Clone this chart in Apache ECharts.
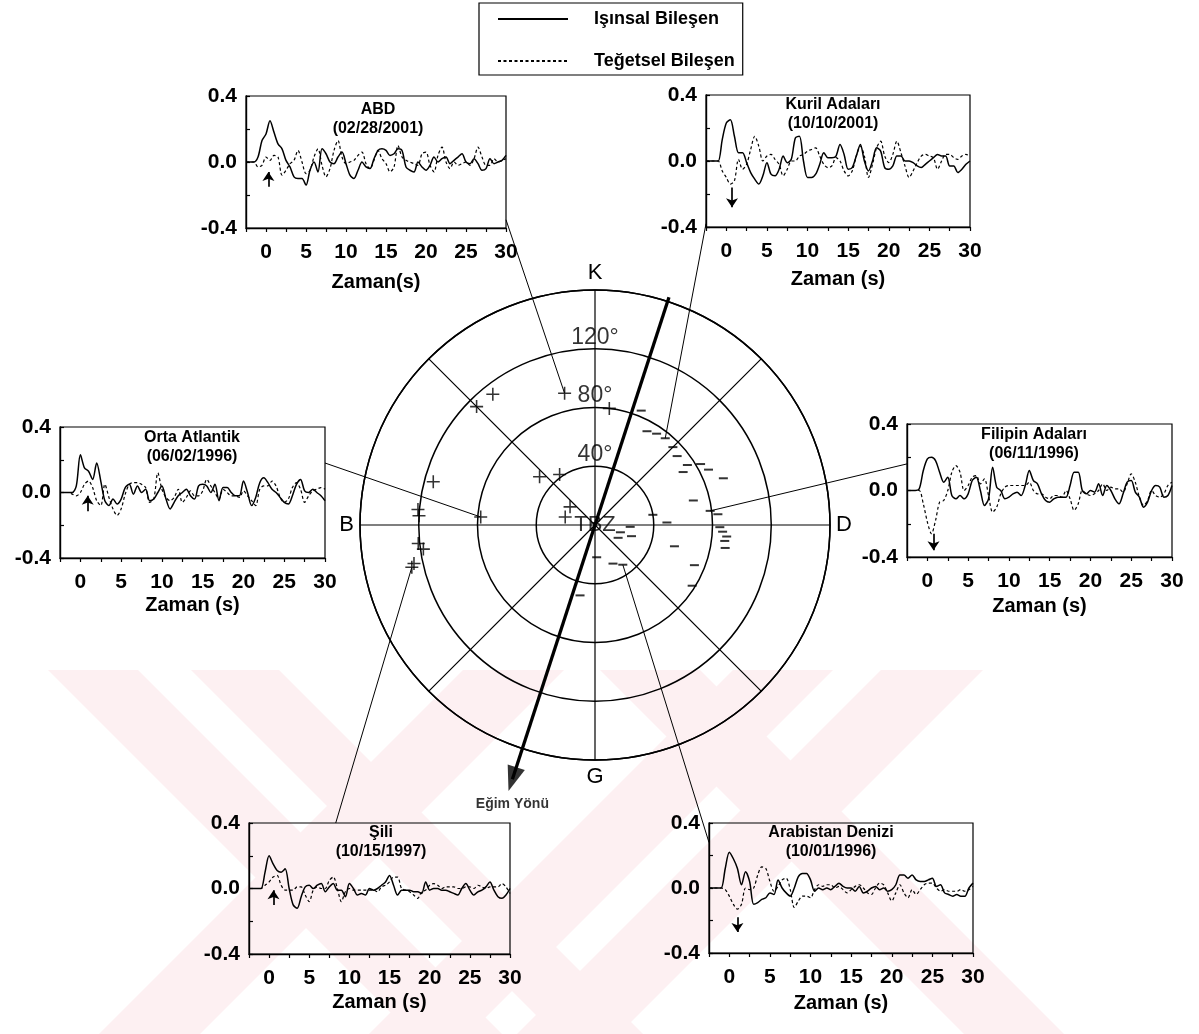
<!DOCTYPE html>
<html><head><meta charset="utf-8">
<script src="https://cdn.jsdelivr.net/npm/echarts@6/dist/echarts.min.js"></script>
<style>html,body{margin:0;padding:0;background:#fff}#c{width:1199px;height:1034px}</style>
</head><body><div id="c"></div>
<script>
// ---------------- DATA ----------------
const T = [-2.5,-2,-1.5,-1,-0.5,0,0.5,1,1.5,2,2.5,3,3.5,4,4.5,5,5.5,6,6.5,7,7.5,8,8.5,9,9.5,10,10.5,11,11.5,12,12.5,13,13.5,14,14.5,15,15.5,16,16.5,17,17.5,18,18.5,19,19.5,20,20.5,21,21.5,22,22.5,23,23.5,24,24.5,25,25.5,26,26.5,27,27.5,28,28.5,29,29.5,30];

const eventNames = ['ABD','Kuril Adaları','Orta Atlantik','Filipin Adaları','Şili','Arabistan Denizi'];
const eventDates = ['(02/28/2001)','(10/10/2001)','(06/02/1996)','(06/11/1996)','(10/15/1997)','(10/01/1996)'];
const timeAxisNames = ['Zaman(s)','Zaman (s)','Zaman (s)','Zaman (s)','Zaman (s)','Zaman (s)'];
const seriesNames = ['Işınsal Bileşen','Teğetsel Bileşen'];

const radialABD = [0,0,0,0.03,0.13,0.17,0.25,0.18,0.11,0.08,
 0.01,-0.03,-0.09,-0.1,-0.1,-0.14,-0.05,0,-0.06,0.08,
 0.05,0,-0.01,0.03,0.06,-0.01,-0.08,-0.1,-0.05,0,
 -0.03,-0.04,0.02,0.07,0.08,0.07,0.04,0.05,0.08,0.07,
 -0.03,-0.05,-0.06,0,-0.03,-0.05,-0.02,0.03,0,0.02,
 0.03,-0.01,0.01,0.03,0.05,0,-0.01,0.02,-0.01,-0.05,
 -0.04,0.02,-0.01,0,0.01,0.04];
const tangentialABD = [0,0,0,-0.03,-0.02,0.03,0.01,0.04,0.03,-0.08,
 -0.05,-0.01,0.01,0.07,0,-0.07,-0.05,0.03,0.08,-0.02,
 -0.09,-0.04,0.07,0.13,0.03,-0.01,0,0.01,0.04,0.06,
 -0.01,-0.04,0.01,0.07,0.02,-0.01,-0.06,-0.03,0.1,0.03,
 0.01,0,-0.01,-0.02,0.05,0.06,-0.02,-0.06,0.04,0.09,
 0,-0.04,0,-0.02,-0.01,0,-0.02,0.02,0.09,0.03,
 -0.02,-0.02,0.02,0,0.01,0.02];

const radialKuril = [0,0,0,0,0.13,0.23,0.25,0.15,0.05,0.05,
 -0.01,-0.07,-0.11,-0.14,-0.09,-0.01,-0.08,-0.09,-0.05,0.03,
 -0.01,0.01,0.14,0.15,0,-0.1,-0.1,-0.08,-0.02,0.05,
 0.02,0.02,0.03,0.1,0.04,-0.05,-0.04,0.03,0.1,0,
 -0.06,0,0.08,0.06,-0.04,-0.05,-0.03,0.03,0.03,0,
 0,-0.01,-0.03,-0.04,-0.02,0,0.02,0.04,0.03,0.03,
 -0.03,-0.03,-0.07,-0.05,-0.02,0];
const tangentialKuril = [0,0,0,0,-0.06,-0.1,-0.14,-0.12,0.01,-0.05,
 -0.02,0.07,0.15,0.09,0,0.03,0.04,0.01,-0.02,-0.09,
 -0.05,0,0,0.03,0.04,0.06,0.07,0.08,0.03,-0.02,
 -0.04,-0.03,0.02,0,-0.06,-0.09,-0.06,0.03,0.09,0.03,
 -0.1,-0.02,0.08,0.12,0.03,-0.01,0.04,0.12,0.05,-0.03,
 -0.1,-0.06,-0.01,0.03,0.04,0.03,0.02,-0.05,0,0.04,
 0.04,0.02,0.01,0.03,0.04,0.03];

const radialAtlantic = [0,0,0,0,0.04,0.23,0.15,0.13,0.08,0.18,
 0.07,-0.05,-0.08,-0.04,-0.07,-0.04,0.03,0.05,-0.01,0.04,
 0,0.02,-0.05,-0.04,0,0.04,-0.04,-0.1,-0.06,-0.02,
 0,0.02,-0.02,-0.04,0.04,0.05,0.04,0,0.05,-0.05,
 0.03,0.03,0,-0.02,-0.02,0.07,0,-0.08,-0.03,0.06,
 0.09,0.06,0.02,0,-0.03,-0.06,-0.07,-0.02,0.05,0.08,
 0.01,0,0.02,0,-0.02,-0.05];
const tangentialAtlantic = [0,0,0,-0.01,-0.02,0,0.05,0.07,0.03,-0.05,
 -0.08,0.05,-0.03,-0.1,-0.14,-0.1,-0.01,0.05,0.06,0.06,
 0.05,0.03,-0.06,-0.04,0.12,0.02,-0.03,-0.05,-0.03,0.02,
 -0.06,-0.03,0.01,-0.02,-0.02,0.01,0.08,0.04,0,-0.04,
 0.02,0,-0.02,-0.02,-0.03,0.01,-0.02,-0.05,-0.08,0.02,
 0.04,0.04,0.07,0.04,-0.03,-0.06,-0.04,0.03,0.06,0.02,
 -0.06,-0.02,0.01,0.02,0.03,0.02];

const radialPhilippine = [0,0,0,0.01,0.12,0.19,0.2,0.18,0.11,0.05,
 0.08,-0.03,-0.05,-0.03,-0.05,-0.02,0.06,0.08,0,-0.09,
 -0.05,0.14,0.02,0,-0.05,-0.04,-0.02,-0.01,-0.03,0.03,
 0.12,0.06,0.04,-0.02,-0.06,-0.07,-0.05,-0.04,-0.04,-0.04,
 0.03,0.11,0.11,0,-0.02,0,-0.01,0.04,-0.03,0.03,
 0,-0.05,-0.08,-0.02,0.05,0.06,-0.01,-0.04,-0.1,-0.07,
 0,0.03,0.02,-0.04,-0.03,0.03];
const tangentialPhilippine = [0,0,0,0,-0.08,-0.19,-0.26,-0.18,-0.07,-0.06,
 0,0.11,0.15,0.11,0,0.03,0.08,0.09,0.04,0.07,
 -0.03,-0.13,-0.1,-0.02,0.02,0.03,0.03,0.03,0.03,0.03,
 0.05,0,-0.02,-0.02,-0.04,-0.05,-0.03,-0.03,-0.04,0,
 -0.05,-0.12,-0.08,0,-0.02,-0.03,-0.02,0,0.04,0,
 0.02,0.01,0.01,-0.01,0.04,0.1,0.05,-0.04,-0.09,-0.06,
 0,-0.03,-0.04,-0.02,0.03,0.05];

const radialChile = [0,0,0,0,0.1,0.2,0.15,0.11,0.1,0.12,
 0,-0.1,-0.12,-0.05,0.01,0.02,0,0.02,0.03,-0.02,
 0.01,0.03,-0.01,-0.01,-0.05,0.03,0,-0.04,-0.03,-0.04,
 0,-0.01,0,0.02,0.04,0.08,0.02,-0.04,-0.01,-0.01,
 -0.01,-0.02,-0.02,-0.03,0.04,-0.01,0,0,-0.01,-0.01,
 -0.02,-0.03,-0.04,0,0.03,-0.01,-0.04,-0.02,-0.01,0.01,
 0.04,-0.01,-0.05,-0.06,-0.04,0];
const tangentialChile = [0,0,0,0,0.02,0.04,0.07,0.08,0.02,-0.01,
 -0.01,-0.01,0.01,0.01,-0.04,-0.08,-0.01,0.01,0,0,
 0.05,0.07,0,-0.08,-0.02,0,-0.01,-0.01,-0.01,-0.01,
 -0.01,-0.01,-0.02,0.01,0.02,0.04,0.07,0.07,0,-0.01,
 -0.02,-0.04,-0.06,-0.02,-0.01,0.02,0.03,0.02,0,0.01,
 0.01,0.01,0,0,0.01,0.01,0,0.02,0.01,0,
 0.01,0.01,0.01,0.03,0.01,-0.03];

const radialArabian = [0,0,0,0,0.12,0.22,0.18,0.12,0.02,0.1,
 0.04,-0.1,-0.09,-0.07,-0.06,-0.03,-0.04,0.05,0,-0.03,
 -0.05,0,0.07,0.09,0.09,0.05,-0.02,0,-0.01,0,
 -0.01,0.01,0.03,0.01,0,0,-0.02,0.01,-0.03,-0.02,
 0,0.01,-0.01,0,-0.02,-0.01,0.02,0.08,0.08,0.06,
 0.08,0.05,0.04,0.04,0.05,0.06,0.01,0.02,-0.03,-0.04,
 -0.05,-0.04,-0.05,-0.05,0,0.03];
const tangentialArabian = [0,0,0,0,-0.01,-0.05,-0.1,-0.13,-0.1,0,
 -0.01,0,0.08,0.13,0.12,0.04,-0.02,0.01,0.05,0.06,
 -0.01,-0.12,-0.08,-0.05,-0.05,-0.06,-0.01,0.02,0.01,0.02,
 0.02,0,0.01,-0.01,-0.03,-0.01,0.01,0.02,0,-0.03,
 -0.04,0,0.03,0.02,-0.03,-0.08,-0.03,0.02,-0.03,-0.06,
 -0.01,-0.04,-0.01,0.02,0.03,0.03,0,-0.02,-0.01,-0.02,
 -0.02,-0.02,-0.01,-0.02,-0.01,0.01];

const radialSets = [radialABD, radialKuril, radialAtlantic, radialPhilippine, radialChile, radialArabian];
const tangentialSets = [tangentialABD, tangentialKuril, tangentialAtlantic, tangentialPhilippine, tangentialChile, tangentialArabian];

// first-motion arrows inside each inset: time, tail value, head value
const firstMotionTime = [0.3, 0.7, 0.9, 0.75, 0.55, 1.0];
const firstMotionFrom = [-0.15, -0.16, -0.115, -0.26, -0.1, -0.18];
const firstMotionTo   = [-0.06, -0.28, -0.02, -0.36, -0.01, -0.27];

// polar plot: [distance (deg), back-azimuth (deg)]
const plusMarks = [[92,347],[113,322],[114,315],[80,7],[114,285],[50,311],[42,325],[21,306],[21,285],[78,274],
 [121,275],[120,273],[121,264],[118,262],[128,257],[126,258]];
const minusMarks = [[84,22],[73,29],[75,34],[76,39],[75,45],[73,50],[75,57],[83,60],[70,59],[86,64],
 [93,70],[69,76],[79,83],[84,85],[40,80],[49,88],[85,91],[87,93],[90,95],[89,97],
 [90,100],[24,93],[18,106],[18,119],[26,107],[56,105],[73,112],[29,155],[33,145],[78,122],
 [22,177],[49,192]];
const ringTicks = [40, 80, 120];
const compassAngles = [0, 90, 180, 270];
const compassLabels = ['K', 'D', 'G', 'B'];
const stationName = 'TBZ';
const dipDirection = 198;
const dipLabel = 'Eğim Yönü';
const dipTailDist = 163, dipHeadDist = 182;

// which marker each inset connects to, and where the connector leaves the inset (inset data coords)
const linkMarkSet = ['plus','minus','plus','minus','plus','minus'];
const linkMarkIndex = [0, 3, 9, 12, 14, 28];
const linkFrom = [[30,-0.35],[-2.5,-0.38],[30,0.18],[-2.5,0.16],[8.3,0.4],[-2.5,0.28]];

// ---------------- LAYOUT ----------------
const FONT = '"Liberation Sans", Arial, Helvetica, sans-serif';
const gridBoxes = [
  {left:246, top:96, width:260, height:132},
  {left:706, top:95, width:264, height:132},
  {left:60,  top:427, width:265, height:131},
  {left:907, top:424, width:265, height:133},
  {left:249, top:823, width:261, height:131},
  {left:709, top:823, width:264, height:130}
];
const titleX = [378, 833, 192, 1034, 381, 831];
const titleDy = [4, 0, 1, 1, 0, 0];
const nameGaps = [44, 42, 37, 39, 38, 40];

const grids = [], xAxes = [], yAxes = [], titles = [], series = [];
gridBoxes.forEach((g, i) => {
  grids.push(Object.assign({show:true, borderColor:'#000', borderWidth:1.2, backgroundColor:'transparent'}, g));
  xAxes.push({
    type:'value', gridIndex:i, min:-2.5, max:30, interval:2.5,
    name: timeAxisNames[i], nameLocation:'middle', nameGap:nameGaps[i],
    nameTextStyle:{fontSize:20, fontWeight:'bold', color:'#000', fontFamily:FONT},
    axisLine:{show:true, onZero:false, lineStyle:{color:'#000', width:1.4}},
    axisTick:{show:true, inside:false, length:4, lineStyle:{color:'#000', width:1.2}},
    axisLabel:{margin:14, fontSize:21, fontWeight:'bold', color:'#000', fontFamily:FONT,
      formatter: v => (v >= 0 && Math.abs(v % 5) < 1e-6) ? String(Math.round(v)) : ''},
    splitLine:{show:false}
  });
  yAxes.push({
    type:'value', gridIndex:i, min:-0.4, max:0.4, interval:0.2,
    axisLine:{show:true, onZero:false, lineStyle:{color:'#000', width:1.4}},
    axisTick:{show:true, inside:true, length:4, lineStyle:{color:'#000', width:1.2}},
    axisLabel:{margin:9, fontSize:21, fontWeight:'bold', color:'#000', fontFamily:FONT,
      formatter: v => {
        if (Math.abs(v) < 1e-6) return '0.0';
        if (Math.abs(Math.abs(v) - 0.4) < 1e-6) return v > 0 ? '0.4' : '-0.4';
        return '';
      }},
    splitLine:{show:false}
  });
  titles.push({
    text: eventNames[i] + '\n' + eventDates[i],
    left: titleX[i], top: g.top + titleDy[i], textAlign:'center', padding:0,
    textStyle:{fontSize:16, fontWeight:'bold', lineHeight:19, color:'#000', fontFamily:FONT}
  });
  series.push({
    type:'line', name:seriesNames[0], xAxisIndex:i, yAxisIndex:i,
    data: T.map((t, k) => [t, radialSets[i][k]]),
    symbol:'none', showSymbol:false, smooth:0.3, z:4,
    lineStyle:{color:'#000', width:1.5},
    itemStyle:{color:'#000'},
    markLine:{
      silent:true, symbol:['none','arrow'], symbolSize:9,
      label:{show:false},
      lineStyle:{color:'#000', width:1.7, type:'solid'},
      data:[[{coord:[firstMotionTime[i], firstMotionFrom[i]]},{coord:[firstMotionTime[i], firstMotionTo[i]]}]]
    }
  });
  series.push({
    type:'line', name:seriesNames[1], xAxisIndex:i, yAxisIndex:i,
    data: T.map((t, k) => [t, tangentialSets[i][k]]),
    symbol:'none', showSymbol:false, smooth:0.3, z:3,
    lineStyle:{color:'#000', width:1.2, type:[3,2.5]},
    itemStyle:{color:'#000'}
  });
});

// polar series
const plusPath = 'path://M4.4,0h1.2v4.4h4.4v1.2h-4.4v4.4h-1.2v-4.4h-4.4v-1.2h4.4z';
const plusSeriesIndex = series.length;
series.push({
  type:'scatter', coordinateSystem:'polar', data: plusMarks, clip:false,
  symbol: plusPath, symbolSize: 13, itemStyle:{color:'#000'}, z:6, silent:true
});
const minusSeriesIndex = series.length;
series.push({
  type:'scatter', coordinateSystem:'polar', data: minusMarks, clip:false,
  symbol:'rect', symbolSize:[9, 2], itemStyle:{color:'#000'}, z:6, silent:true
});
series.push({
  type:'scatter', coordinateSystem:'polar', data: ringTicks.map(r => [r, 0]), clip:false,
  symbolSize:0, silent:true, z:7,
  label:{show:true, position:'top', distance:0, formatter: p => p.value[0] + '°',
    fontSize:23, color:'#000', fontFamily:FONT}
});
series.push({
  type:'scatter', coordinateSystem:'polar', data: [[0, 0]], clip:false,
  symbolSize:0, silent:true, z:7,
  label:{show:true, position:'inside', formatter: stationName, fontSize:22, color:'#000', fontFamily:FONT}
});
const dipSeriesIndex = series.length;
series.push({
  type:'scatter', coordinateSystem:'polar', clip:false, silent:true, z:8,
  data: [[dipHeadDist, dipDirection]],
  symbol:'triangle', symbolSize:[18, 25], symbolRotate: 360 - dipDirection,
  itemStyle:{color:'#000'},
  label:{show:true, position:'bottom', distance:3, formatter: dipLabel, fontSize:14, fontWeight:'bold', color:'#000', fontFamily:FONT}
});

const option = {
  animation:false,
  backgroundColor:'#fff',
  title: titles,
  legend:{
    data: seriesNames, orient:'vertical', left:479, top:3,
    itemWidth:70, itemHeight:14, itemGap:24, padding:[7,8,5,18],
    borderColor:'#000', borderWidth:1.2, selectedMode:false,
    itemStyle:{opacity:0},
    textStyle:{fontSize:18, lineHeight:14, fontWeight:'bold', color:'#000', fontFamily:FONT, padding:[0,0,0,21]}
  },
  grid: grids, xAxis: xAxes, yAxis: yAxes,
  polar:{center:[595, 525], radius:235},
  angleAxis:{
    type:'value', min:0, max:360, interval:45, startAngle:90, clockwise:true,
    axisLine:{show:true, lineStyle:{color:'#000', width:1.5}},
    axisTick:{show:false},
    splitLine:{show:true, lineStyle:{color:'#000', width:1.2}},
    axisLabel:{margin:6, fontSize:22, color:'#000', fontFamily:FONT,
      formatter: v => { const k = compassAngles.indexOf(v); return k >= 0 ? compassLabels[k] : ''; }}
  },
  radiusAxis:{
    type:'value', min:0, max:160, interval:40,
    axisLine:{show:false}, axisTick:{show:false}, axisLabel:{show:false},
    splitLine:{show:true, lineStyle:{color:'#000', width:1.5}}
  },
  series: series
};

const chart = echarts.init(document.getElementById('c'), null, {renderer:'canvas'});
chart.setOption(option);

// ---------------- GRAPHIC (watermark, dip shaft, connectors) ----------------
const wmTop = 670, wmBottom = 1034, wmDrop = wmBottom - wmTop;
const wmDownRight = [[48,138],[191,279],[600,700]];
const wmDownLeft = [[463,564],[733,833],[881,983]];
const WM = '#fdf0f2';
const els = [];
wmDownRight.forEach(([a,b]) => els.push({type:'polygon', silent:true, z:-10,
  shape:{points:[[a,wmTop],[b,wmTop],[b+wmDrop,wmBottom],[a+wmDrop,wmBottom]]}, style:{fill:WM}}));
wmDownLeft.forEach(([a,b]) => els.push({type:'polygon', silent:true, z:-10,
  shape:{points:[[a,wmTop],[b,wmTop],[b-wmDrop,wmBottom],[a-wmDrop,wmBottom]]}, style:{fill:WM}}));

// dip-direction shaft, through the polar scale
const pTail = chart.convertToPixel({seriesIndex: dipSeriesIndex}, [dipTailDist, dipDirection - 180]);
const pHead = chart.convertToPixel({seriesIndex: dipSeriesIndex}, [dipHeadDist, dipDirection]);
if (pTail && pHead) {
  els.push({type:'line', silent:true, z:8, shape:{x1:pTail[0], y1:pTail[1], x2:pHead[0], y2:pHead[1]},
    style:{stroke:'#000', lineWidth:3.3}});
}

linkFrom.forEach((from, i) => {
  const p1 = chart.convertToPixel({gridIndex:i}, from);
  const mark = linkMarkSet[i] === 'plus' ? plusMarks[linkMarkIndex[i]] : minusMarks[linkMarkIndex[i]];
  const p2 = chart.convertToPixel({seriesIndex: linkMarkSet[i] === 'plus' ? plusSeriesIndex : minusSeriesIndex}, mark);
  if (p1 && p2) {
    els.push({type:'line', silent:true, z:5, shape:{x1:p1[0], y1:p1[1], x2:p2[0], y2:p2[1]},
      style:{stroke:'#000', lineWidth:1}});
  }
});
chart.setOption({graphic:{elements: els}});
</script>
</body></html>
